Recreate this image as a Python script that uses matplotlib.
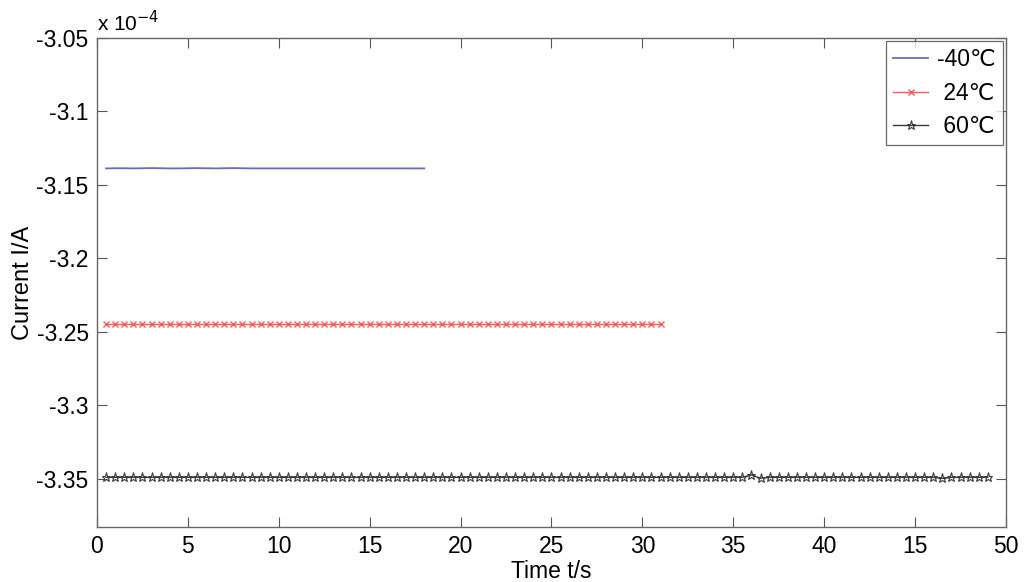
import numpy as np
import matplotlib
matplotlib.use("Agg")
import matplotlib.pyplot as plt
from matplotlib.ticker import FuncFormatter

plt.rcParams['font.family'] = ['Liberation Sans', 'DejaVu Sans', 'Noto Sans CJK SC']

# time samples (s)
t_blue = np.arange(0.5, 18.01, 0.5)
t_red = np.arange(0.5, 31.01, 0.5)
t_black = np.arange(0.5, 49.01, 0.5)

# currents (A)
i_blue = np.array([-3.1388, -3.1387, -3.1387, -3.1388, -3.1387, -3.1386, -3.1387, -3.1388,
                   -3.1388, -3.1387, -3.1386, -3.1387, -3.1388, -3.1387, -3.1386, -3.1387,
                   -3.1388, -3.1388, -3.1388, -3.1388, -3.1388, -3.1388, -3.1388, -3.1388,
                   -3.1388, -3.1388, -3.1388, -3.1388, -3.1388, -3.1388, -3.1388, -3.1388,
                   -3.1388, -3.1388, -3.1388, -3.1388]) * 1e-4
i_red = np.array([-3.2447] * 62) * 1e-4
i_black = np.array([-3.3492] * 71 + [-3.3476, -3.3498] + [-3.3492] * 19 + [-3.3499] + [-3.3492] * 5) * 1e-4

labels = ['-40℃', ' 24℃', ' 60℃']
xticks = [0, 5, 10, 15, 20, 25, 30, 35, 40, 45, 50]
xtick_labels = ['0', '5', '10', '15', '20', '25', '30', '35', '40', '15', '50']
yticks = [-3.35e-4, -3.3e-4, -3.25e-4, -3.2e-4, -3.15e-4, -3.1e-4, -3.05e-4]

fig = plt.figure(figsize=(10.24, 5.82), dpi=100)
ax = fig.add_axes([0.0947, 0.0945, 0.9824 - 0.0947, 0.9347 - 0.0945])

ax.plot(t_blue, i_blue, color='#6a6ab8', lw=1.3, label=labels[0])
ax.plot(t_red, i_red, color='#ff5a5a', lw=1.0, marker='x', ms=4, mew=1.0, label=labels[1])
ax.plot(t_black, i_black, color='#3a3a3a', lw=1.0, marker='*', ms=6.5, mfc='none', mew=0.8, label=labels[2])

ax.set_xlim(0, 50)
ax.set_ylim(-3.383e-4, -3.05e-4)
ax.set_xticks(xticks)
ax.set_xticklabels(xtick_labels)
ax.set_yticks(yticks)
ax.yaxis.set_major_formatter(FuncFormatter(lambda v, p: '%g' % round(v / 1e-4, 4)))

ax.tick_params(direction='in', top=True, right=True, length=7, width=0.8, color='#555555',
               labelsize=16.5, pad=6)
for s in ax.spines.values():
    s.set_color('#666666')
    s.set_linewidth(1.0)

ax.text(0.0, 1.005, 'x 10$^{-4}$', transform=ax.transAxes, fontsize=15, ha='left', va='bottom')

ax.set_xlabel('Time t/s', fontsize=16.5, labelpad=1)
ax.set_ylabel('Current I/A', fontsize=17, labelpad=2)

leg = ax.legend(loc='upper right', fontsize=16.5, frameon=True, fancybox=False, edgecolor='#444444',
                borderpad=0.3, handlelength=1.5, labelspacing=0.45, borderaxespad=0.15, handletextpad=0.4)
leg.get_frame().set_linewidth(0.9)

fig.savefig('out.png', dpi=100, facecolor='white')
